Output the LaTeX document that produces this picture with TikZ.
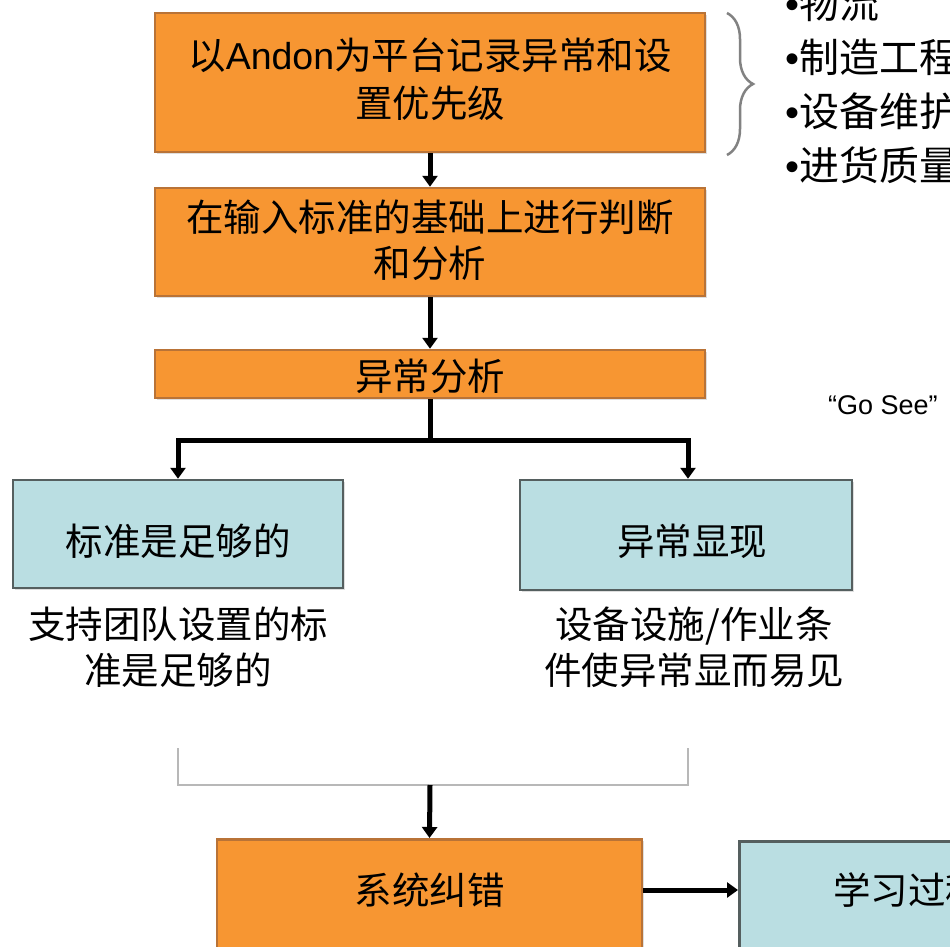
\documentclass[tikz,border=0pt]{standalone}
\usepackage{fontspec}
\setmainfont{Noto Sans CJK SC}
\newfontfamily\latin{Liberation Sans}
\usetikzlibrary{arrows.meta,decorations.pathreplacing,shadows}
\definecolor{ofill}{RGB}{247,150,50}
\definecolor{oborder}{RGB}{185,115,55}
\definecolor{bfill}{RGB}{186,222,226}
\definecolor{bborder}{RGB}{85,95,95}
\definecolor{brgray}{RGB}{130,130,130}
\tikzset{
  obox/.style={draw=oborder, fill=ofill, line width=2.5pt, rectangle, inner sep=0pt,
    drop shadow={shadow xshift=2pt, shadow yshift=-2pt, fill=black!25}},
  bbox/.style={draw=bborder, fill=bfill, line width=2.5pt, rectangle, inner sep=0pt,
    drop shadow={shadow xshift=2pt, shadow yshift=-2pt, fill=black!25}},
  txt/.style={align=center, font=\fontsize{37.5}{46}\selectfont, inner sep=0pt},
  arr/.style={line width=5pt, -{Triangle[length=11pt,width=15pt]}},
  barline/.style={line width=5pt},
  bracketline/.style={draw=black!28, line width=2.5pt},
  bullet/.style={anchor=west, font=\fontsize{40}{48}\selectfont, inner sep=0pt}
}
\begin{document}
\begin{tikzpicture}[x=1pt,y=1pt]
\clip (0,0) rectangle (950,-947);
\fill[white] (0,0) rectangle (950,-947);

% orange boxes
\node[obox, minimum width=550, minimum height=139] (b1) at (430,-82.5) {};
\node[txt] (t1) at (430,-79) {以{\latin Andon}为平台记录异常和设\\[2pt]置优先级};
\node[obox, minimum width=550, minimum height=108] (b2) at (430,-242) {};
\node[txt] (t2) at (430,-240) {在输入标准的基础上进行判断\\和分析};
\node[obox, minimum width=550, minimum height=48] (b3) at (430,-374) {};
\node[txt] (t3) at (430,-376) {异常分析};

% blue boxes
\node[bbox, minimum width=330, minimum height=108] (lb) at (178,-534) {};
\node[txt] (tl) at (178,-541) {标准是足够的};
\node[bbox, minimum width=332, minimum height=110] (rb) at (686,-535) {};
\node[txt] (tr) at (692,-541) {异常显现};

% captions
\node[txt] (cl) at (178,-647) {支持团队设置的标\\准是足够的};
\node[txt] (cr) at (694,-647) {设备设施/作业条\\件使异常显而易见};

% bottom boxes
\node[obox, minimum width=425, minimum height=140, anchor=north] (bo) at (429.5,-838) {};
\node[txt] (tbo) at (429.5,-890) {系统纠错};
\node[bbox, minimum width=340, minimum height=140, anchor=north west] (bb) at (738,-840) {};
\node[txt, anchor=west] (tbb) at (833,-890) {学习过程};

% brace and bullets
\coordinate (brtop) at (727,-13);
\coordinate (brbot) at (727,-155);
\draw[brgray, line width=2.5pt, decorate, decoration={brace, amplitude=26pt, aspect=0.5}] (brtop) -- (brbot);
\node[bullet] (u1) at (785,-3) {{\latin •}物流};
\node[bullet] (u2) at (785,-57) {{\latin •}制造工程};
\node[bullet] (u3) at (785,-111) {{\latin •}设备维护};
\node[bullet] (u4) at (785,-165) {{\latin •}进货质量};
\node[anchor=west, font=\latin\fontsize{27}{30}\selectfont, inner sep=0pt] (gs) at (828,-405) {“Go See”};

% connectors
\draw[arr] (b1.south) -- (b2.north);
\draw[arr] (b2.south) -- (b3.north);
\coordinate (j) at (430,-440);
\draw[barline] (b3.south) -- (j);
\draw[arr] (j) -| (lb.north);
\draw[arr] (j) -| ([xshift=2pt]rb.north);

\coordinate (k1) at (178,-748);
\coordinate (k2) at (688,-748);
\coordinate (km) at (430,-785);
\draw[bracketline] (k1) |- (km) -| (k2);
\draw[arr] (km) -- (bo.north);
\draw[arr] (bo.east |- tbo) -- (bb.west |- tbo);
\end{tikzpicture}
\end{document}
